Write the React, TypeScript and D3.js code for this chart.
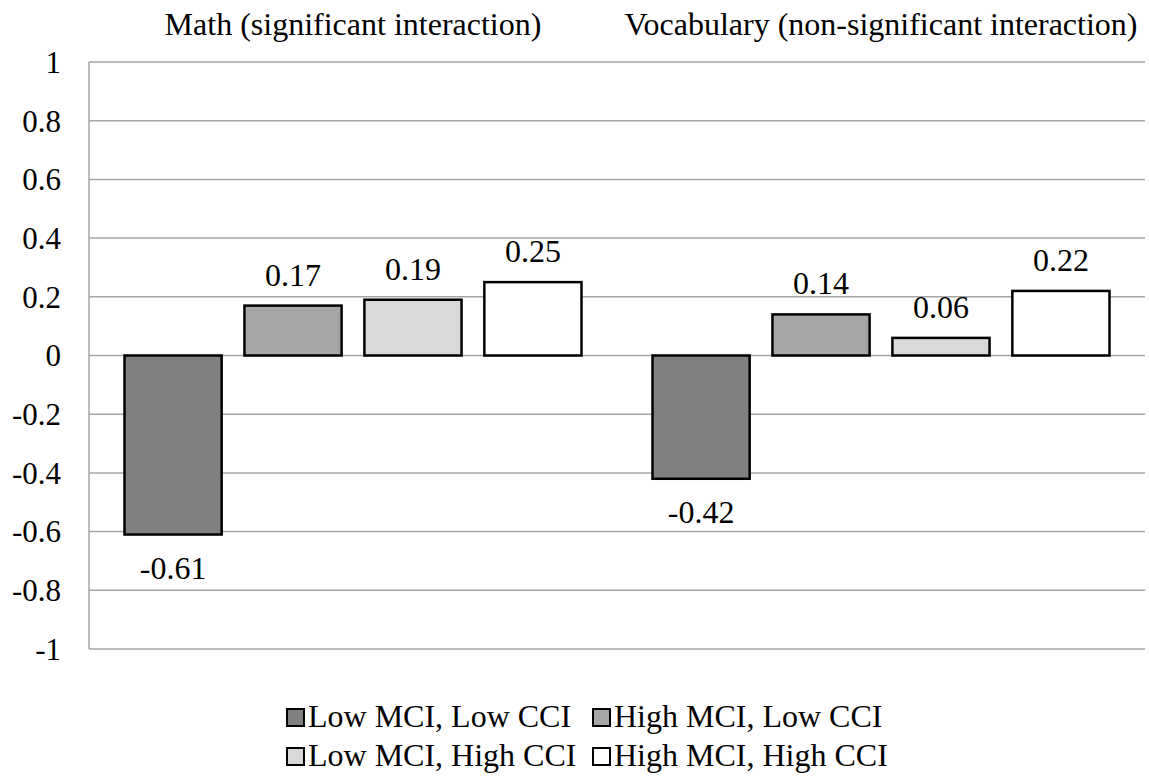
import React from "react";
import * as d3 from "d3";

const groups = ["Math (significant interaction)", "Vocabulary (non-significant interaction)"];
const series = ["Low MCI, Low CCI", "High MCI, Low CCI", "Low MCI, High CCI", "High MCI, High CCI"];
const colors = ["#808080", "#a6a6a6", "#d9d9d9", "#ffffff"];
const mathValues = [-0.61, 0.17, 0.19, 0.25];
const vocabValues = [-0.42, 0.14, 0.06, 0.22];
const ticks = [1, 0.8, 0.6, 0.4, 0.2, 0, -0.2, -0.4, -0.6, -0.8, -1];

const W = 1149, H = 776;
const left = 89, right = 1145, top = 62, bottom = 649;
const font = "Liberation Serif, Times New Roman, Times, serif";
const fs = 32;

export default function App() {
  const data = [mathValues, vocabValues];
  const y = d3.scaleLinear().domain([-1, 1]).range([bottom, top]);
  const x0 = d3.scaleBand<string>().domain(groups).range([left, right]);
  const pad = 35.5;
  const x1 = d3.scaleBand<string>().domain(series).range([pad, x0.bandwidth() - pad]).paddingInner(0.19);
  return (
    <svg width={W} height={H} style={{ position: "absolute", left: 0, top: 0, fontFamily: font }}>
      <rect width={W} height={H} fill="#fff" />
      {ticks.map((t) => (
        <g key={t}>
          <line x1={left} x2={right} y1={y(t)} y2={y(t)} stroke="#a6a6a6" strokeWidth={1.5} />
          <text x={61} y={y(t)} dy="0.35em" textAnchor="end" fontSize={31} fill="#000">{t}</text>
        </g>
      ))}
      <line x1={left} x2={left} y1={top} y2={bottom} stroke="#a6a6a6" strokeWidth={1.5} />
      {groups.map((g, gi) => (
        <g key={g} transform={`translate(${x0(g)},0)`}>
          <text x={x0.bandwidth() / 2} y={35} textAnchor="middle" fontSize={fs}>{g}</text>
          {series.map((s, si) => {
            const v = data[gi][si];
            const yy = Math.min(y(v), y(0));
            const h = Math.abs(y(v) - y(0));
            const bx = x1(s)!;
            return (
              <g key={s}>
                <rect x={bx} y={yy} width={x1.bandwidth()} height={h} fill={colors[si]} stroke="#000" strokeWidth={2.5} />
                <text x={bx + x1.bandwidth() / 2} y={v >= 0 ? y(v) - 20 : y(v) + 44} textAnchor="middle" fontSize={fs}>
                  {v.toFixed(2)}
                </text>
              </g>
            );
          })}
        </g>
      ))}
      {series.map((s, i) => {
        const lx = 287 + (i % 2) * 306;
        const base = 727 + Math.floor(i / 2) * 39;
        return (
          <g key={s}>
            <rect x={lx} y={base - 18} width={17} height={17} fill={colors[i]} stroke="#000" strokeWidth={2} />
            <text x={lx + 21} y={base} fontSize={fs}>{s}</text>
          </g>
        );
      })}
    </svg>
  );
}
